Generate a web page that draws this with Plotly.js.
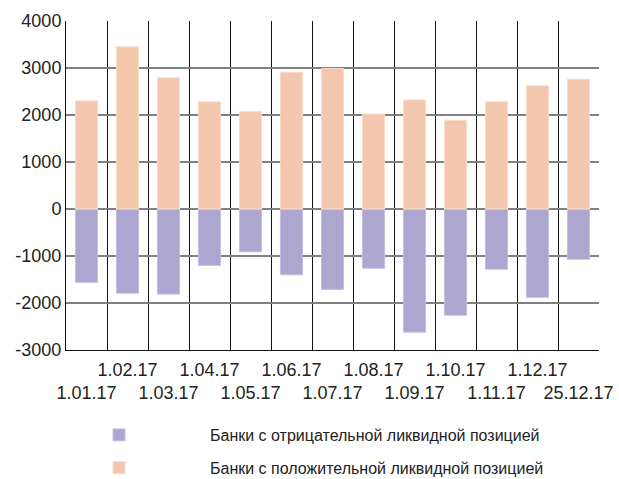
<!DOCTYPE html>
<html>
<head>
<meta charset="utf-8">
<script src="https://cdn.plot.ly/plotly-3.0.1.min.js"></script>
<style>html,body{margin:0;padding:0;background:#fff;}#chart{width:619px;height:479px;}</style>
</head>
<body>
<div id="chart"></div>
<script>
var categories = ["1.01.17","1.02.17","1.03.17","1.04.17","1.05.17","1.06.17","1.07.17","1.08.17","1.09.17","1.10.17","1.11.17","1.12.17","25.12.17"];
var negativeValues = [-1560,-1790,-1810,-1200,-910,-1400,-1710,-1260,-2620,-2260,-1280,-1880,-1070];
var positiveValues = [2300,3450,2790,2280,2070,2910,2990,2020,2320,1890,2280,2620,2760];
var seriesNames = ["Банки с отрицательной ликвидной позицией","Банки с положительной ликвидной позицией"];
var yTicks = [-3000,-2000,-1000,0,1000,2000,3000,4000];

var FONT = "Liberation Sans, Arial, sans-serif";
// staggered two-row labels: even positions on the lower row, odd on the upper row
var xLabels = categories.map(function(c, i){ return i % 2 === 1 ? c + "<br>\u00a0" : "\u00a0<br>" + c; });
var yTickText = yTicks.map(function(v){ return String(v); });

var traces = [
  {type:"bar", x:xLabels, y:negativeValues, name:seriesNames[0], legendgroup:"a",
   marker:{color:"#ada6d0", line:{color:"#c4bfe0", width:1}}},
  {type:"bar", x:xLabels, y:positiveValues, name:seriesNames[1], legendgroup:"b",
   marker:{color:"#f2c7ad", line:{color:"#f7dccb", width:1}}}
];

var layout = {
  width:619, height:479,
  margin:{l:66, r:20, t:21, b:129, autoexpand:false},
  paper_bgcolor:"#fff", plot_bgcolor:"#fff",
  barmode:"relative", bargap:0.46,
  font:{family:FONT, size:18, color:"#222"},
  xaxis:{type:"category", tickson:"boundaries", automargin:false,
         showgrid:true, gridcolor:"#111", gridwidth:1, ticks:"", tickangle:0,
         showline:true, linecolor:"#111", linewidth:1, ticklabelstandoff:3,
         tickfont:{family:FONT, size:18, color:"#222"}},
  yaxis:{range:[-3000,4000], tickmode:"array", tickvals:yTicks, ticktext:yTickText,
         showgrid:true, gridcolor:"#808080", gridwidth:1.6,
         zeroline:true, zerolinecolor:"#808080", zerolinewidth:1.6, automargin:false,
         showline:true, linecolor:"#111", linewidth:1, ticks:"",
         tickfont:{family:FONT, size:18, color:"#222"}},
  showlegend:true,
  legend:{x:(28-66)/533, y:(350-418)/329, xanchor:"left", yanchor:"top",
          orientation:"v", traceorder:"grouped", tracegroupgap:9, itemwidth:172,
          font:{family:FONT, size:16, color:"#222"}, bgcolor:"rgba(0,0,0,0)"}
};

Plotly.newPlot("chart", traces, layout, {displayModeBar:false, staticPlot:true});
</script>
</body>
</html>
